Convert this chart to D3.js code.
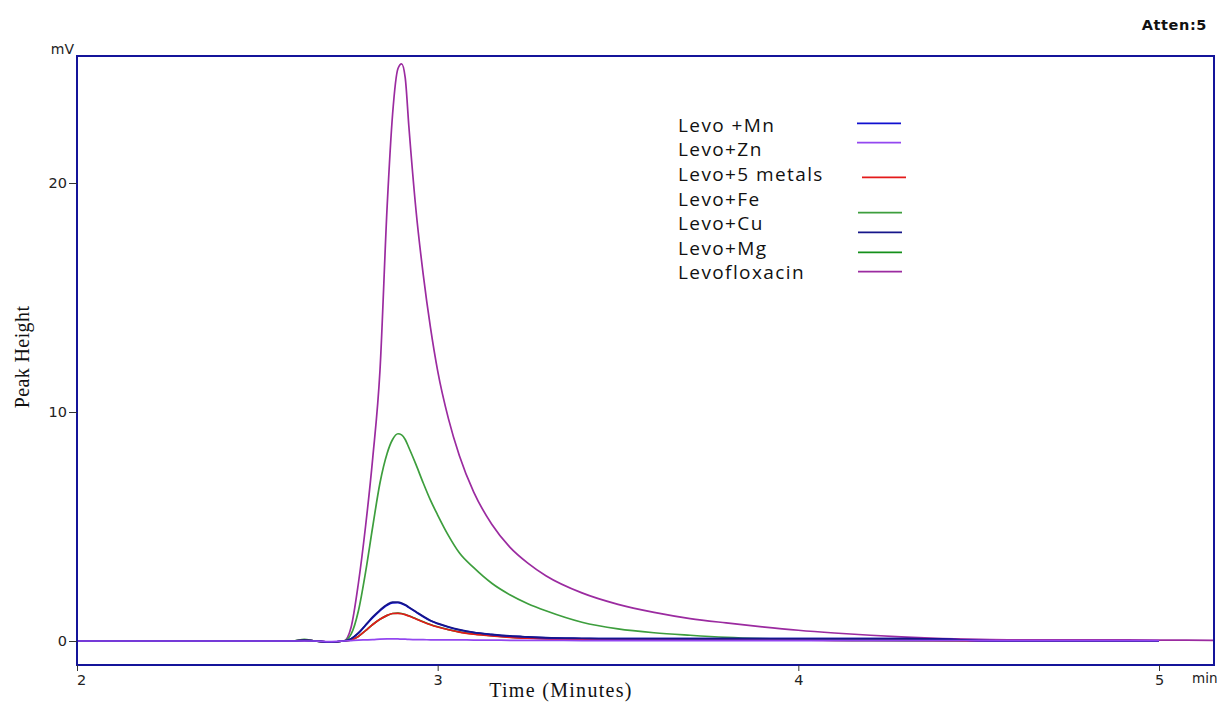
<!DOCTYPE html>
<html><head><meta charset="utf-8">
<script src="https://cdn.jsdelivr.net/npm/d3@7"></script>
<style>
body{margin:0;background:#fff;}
svg{display:block;}
</style></head>
<body>
<svg id="chart" width="1217" height="702"></svg>
<script>
// ---- data ----
const times = [2.0, 2.6, 2.63, 2.66, 2.70, 2.74, 2.76, 2.78, 2.80, 2.82, 2.84, 2.86, 2.875, 2.89, 2.90, 2.91, 2.92, 2.94, 2.96, 2.98, 3.00, 3.03, 3.06, 3.10, 3.15, 3.20, 3.25, 3.30, 3.40, 3.50, 3.60, 3.70, 3.80, 3.90, 4.00, 4.10, 4.20, 4.30, 4.40, 4.50, 4.60, 4.80, 5.00, 5.15];
const levofloxacin = [0, 0, 0.02, 0, -0.04, 0, 0.6, 2.5, 5.0, 8.0, 11.8, 19.0, 23.0, 25.0, 25.2, 24.6, 22.5, 18.8, 16.0, 13.7, 11.8, 9.7, 8.1, 6.5, 5.1, 4.1, 3.4, 2.85, 2.1, 1.6, 1.25, 0.98, 0.79, 0.62, 0.47, 0.35, 0.25, 0.17, 0.11, 0.07, 0.05, 0.05, 0.04, 0.03];
const levoFe = [0, 0, 0.07, 0, -0.04, 0, 0.3, 1.3, 3.0, 5.0, 6.9, 8.2, 8.8, 9.05, 9.0, 8.8, 8.45, 7.7, 6.9, 6.15, 5.5, 4.6, 3.85, 3.2, 2.52, 2.02, 1.63, 1.32, 0.82, 0.53, 0.36, 0.25, 0.16, 0.1, 0.06, 0.03, 0.01, 0, 0, 0, 0, 0, 0, null];
const levoMg = [0, 0, 0.04, 0, -0.04, 0, 0.05, 0.2, 0.45, 0.72, 0.95, 1.12, 1.2, 1.22, 1.2, 1.16, 1.1, 0.97, 0.84, 0.72, 0.62, 0.5, 0.4, 0.31, 0.23, 0.17, 0.13, 0.1, 0.07, 0.06, 0.05, 0.05, 0.05, 0.05, 0.05, 0.05, 0.05, 0.05, 0.03, 0, 0, 0, 0, null];
const levo5Metals = [0, 0, 0.03, 0, -0.04, 0, 0.05, 0.2, 0.45, 0.72, 0.95, 1.12, 1.2, 1.21, 1.19, 1.15, 1.09, 0.96, 0.83, 0.71, 0.61, 0.49, 0.39, 0.3, 0.22, 0.16, 0.12, 0.09, 0.06, 0.05, 0.05, 0.04, 0.04, 0.04, 0.04, 0.03, 0.03, 0.03, 0.02, 0, 0, 0, 0, null];
const levoMn = [0, 0, 0.03, 0, -0.04, 0, 0.1, 0.33, 0.68, 1.02, 1.32, 1.56, 1.66, 1.67, 1.63, 1.56, 1.46, 1.26, 1.06, 0.88, 0.75, 0.6, 0.48, 0.37, 0.28, 0.21, 0.17, 0.14, 0.11, 0.1, 0.1, 0.1, 0.1, 0.1, 0.1, 0.1, 0.1, 0.1, 0.08, 0.02, 0, 0, 0, null];
const levoCu = [0, 0, 0.03, 0, -0.04, 0, 0.1, 0.35, 0.7, 1.05, 1.35, 1.6, 1.7, 1.7, 1.66, 1.58, 1.48, 1.28, 1.08, 0.9, 0.77, 0.62, 0.5, 0.38, 0.29, 0.22, 0.18, 0.15, 0.12, 0.1, 0.1, 0.1, 0.1, 0.1, 0.1, 0.1, 0.1, 0.1, 0.08, 0.02, 0, 0, 0, null];
const levoZn = [0, 0, 0, 0, -0.03, 0, 0.02, 0.04, 0.05, 0.06, 0.08, 0.09, 0.09, 0.09, 0.08, 0.08, 0.07, 0.06, 0.06, 0.05, 0.05, 0.05, 0.05, 0.04, 0.04, 0.03, 0.03, 0.03, 0.02, 0.02, 0.02, 0.02, 0.02, 0.02, 0.02, 0.02, 0.02, 0.02, 0.02, 0.02, 0.02, 0.02, 0.02, null];

const legendLabels = ["Levo +Mn", "Levo+Zn", "Levo+5 metals", "Levo+Fe", "Levo+Cu", "Levo+Mg", "Levofloxacin"];
const legendColors = ["#1010d0", "#9347f0", "#e41a1a", "#3d9e3d", "#16168a", "#14901a", "#9b2ba0"];
const seriesValues = [levoMn, levoZn, levo5Metals, levoFe, levoCu, levoMg, levofloxacin];
const drawOrder = [6, 3, 5, 2, 0, 4, 1];
const yTicks = [0, 10, 20];
const xTicks = [2, 3, 4, 5];

// ---- layout ----
const svg = d3.select("#chart");
const frame = {left: 77, top: 56, right: 1214, bottom: 665};
const x = d3.scaleLinear().domain([2, 5]).range([77, 1159]);
const y = d3.scaleLinear().domain([0, 20]).range([641, 183]);

svg.append("defs").append("clipPath").attr("id", "clip")
  .append("rect").attr("x", frame.left).attr("y", frame.top)
  .attr("width", frame.right - frame.left).attr("height", frame.bottom - frame.top);

const lineGen = d3.line()
  .defined(d => d[1] !== null)
  .x(d => x(d[0])).y(d => y(d[1]))
  .curve(d3.curveMonotoneX);

const plot = svg.append("g").attr("clip-path", "url(#clip)");
drawOrder.forEach(i => {
  const pts = times.map((t, k) => [t, seriesValues[i][k]]);
  plot.append("path")
    .attr("d", lineGen(pts))
    .attr("fill", "none")
    .attr("stroke", legendColors[i])
    .attr("stroke-width", 1.7)
    .attr("stroke-linejoin", "round");
});

// frame
svg.append("rect")
  .attr("x", frame.left).attr("y", frame.top)
  .attr("width", frame.right - frame.left).attr("height", frame.bottom - frame.top)
  .attr("fill", "none").attr("stroke", "#14149a").attr("stroke-width", 2);

// y axis
const yAxis = d3.axisLeft(y).tickValues(yTicks).tickSize(8).tickPadding(2).tickFormat(d3.format("d"));
const gy = svg.append("g").attr("transform", `translate(${frame.left},0)`).call(yAxis);
gy.select(".domain").remove();
gy.selectAll(".tick line").attr("stroke", "#333").attr("stroke-width", 1);
gy.selectAll(".tick text").attr("font-family", "DejaVu Sans").attr("font-size", 14.5).attr("fill", "#222");

// x axis
const xAxis = d3.axisBottom(x).tickValues(xTicks).tickSize(6).tickPadding(4).tickFormat(d3.format("d"));
const gx = svg.append("g").attr("transform", `translate(0,${frame.bottom})`).call(xAxis);
gx.select(".domain").remove();
gx.selectAll(".tick line").attr("stroke", "#333").attr("stroke-width", 1);
gx.selectAll(".tick text").attr("font-family", "DejaVu Sans").attr("font-size", 14.5).attr("fill", "#222");
gx.selectAll(".tick text").filter(d => d === 2).attr("dx", 4);

// units
svg.append("text").attr("x", 74).attr("y", 54).attr("text-anchor", "end")
  .attr("font-family", "DejaVu Sans").attr("font-size", 14).attr("fill", "#222").text("mV");
svg.append("text").attr("x", 1192).attr("y", 683)
  .attr("font-family", "DejaVu Sans").attr("font-size", 13.5).attr("fill", "#222").text("min");
svg.append("text").attr("x", 1207).attr("y", 30).attr("text-anchor", "end")
  .attr("font-family", "DejaVu Sans").attr("font-weight", "bold").attr("font-size", 14.5)
  .attr("letter-spacing", 0.6).attr("fill", "#111").text("Atten:5");

// axis titles
svg.append("text").attr("x", 561).attr("y", 697).attr("text-anchor", "middle")
  .attr("font-family", "Liberation Serif").attr("font-size", 20).attr("letter-spacing", 1.3)
  .attr("fill", "#111").text("Time (Minutes)");
svg.append("text").attr("transform", "translate(29,357) rotate(-90)").attr("text-anchor", "middle")
  .attr("font-family", "Liberation Serif").attr("font-size", 20).attr("letter-spacing", 0.4)
  .attr("fill", "#111").text("Peak Height");

// legend
const legendTextY = [131.7, 156.3, 180.9, 205.5, 230.1, 254.7, 279.3];
const legendLineY = [123.3, 142.7, 177.3, 212.7, 232.3, 252.3, 271.7];
const legendLineX = [857, 857, 862, 858, 858, 858, 858];
const lg = svg.append("g");
legendLabels.forEach((lab, i) => {
  lg.append("text").attr("x", 678).attr("y", legendTextY[i])
    .attr("font-family", "Open Sans").attr("font-size", 19).attr("letter-spacing", 1.4)
    .attr("fill", "#111").text(lab);
  lg.append("line").attr("x1", legendLineX[i]).attr("x2", legendLineX[i] + 44)
    .attr("y1", legendLineY[i]).attr("y2", legendLineY[i])
    .attr("stroke", legendColors[i]).attr("stroke-width", 1.7);
});
</script>
</body></html>
